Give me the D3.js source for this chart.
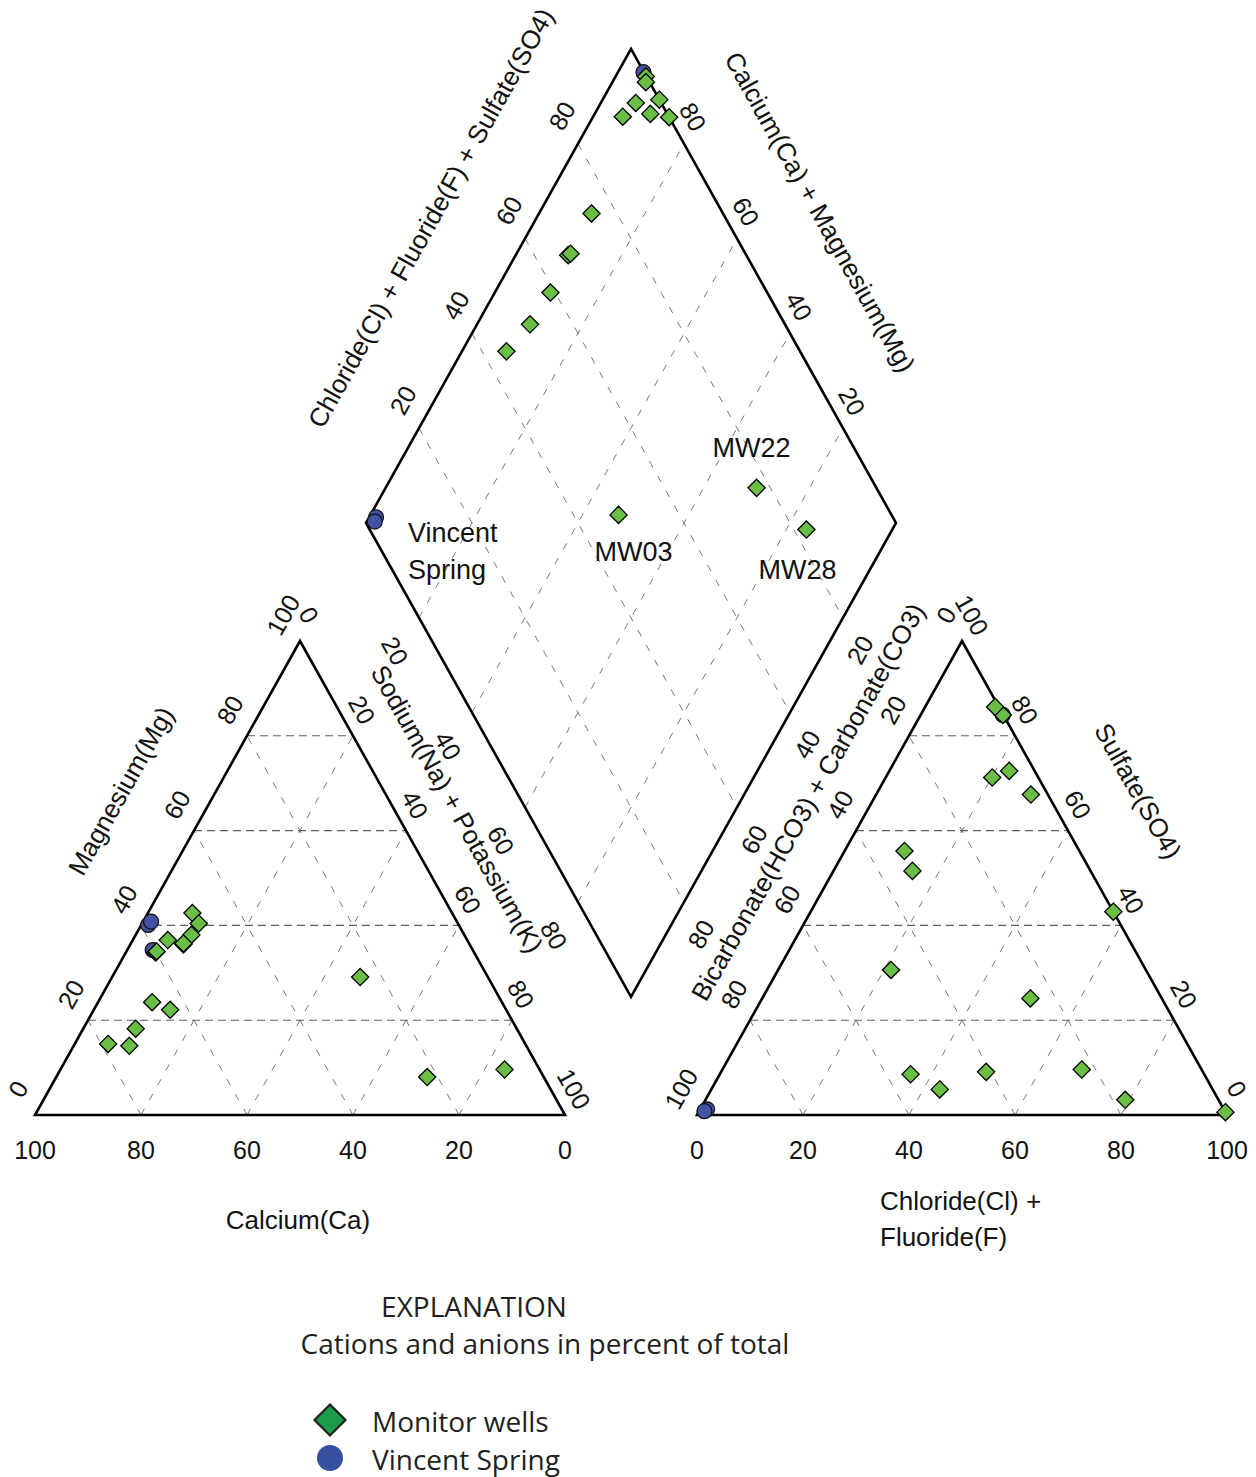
<!DOCTYPE html>
<html>
<head>
<meta charset="UTF-8">
<style>
  body { margin: 0; background: #fff; }
  svg { display: block; }
  .tick { font-family: "Liberation Sans", Arial, sans-serif; font-size: 25px; fill: #111; }
  .title { font-family: "Liberation Sans", Arial, sans-serif; font-size: 26px; fill: #111; }
  .plabel { font-family: "Liberation Sans", Arial, sans-serif; font-size: 27px; fill: #111; }
  .legend { font-family: "Open Sans", sans-serif; font-size: 28px; fill: #231f20; }
</style>
</head>
<body>
<svg id="chart" width="1256" height="1477"></svg>
<script src="https://d3js.org/d3.v7.min.js"></script>
<script>
// samples, percent of total meq (springs first so wells draw on top)
const sampleType = ["spring", "spring", "spring",
  "well", "well", "well", "well", "well", "well", "well", "well",
  "well", "well", "well", "well", "well", "well", "well", "well"];
const sampleName = [null, null, null, "MW03", "MW22", "MW28",
  null, null, null, null, null, null, null, null, null, null, null, null, null];

// cations
const calcium   = [58.6, 57.7, 60.4, 24.1, 22.0, 6.6, 49.0, 54.0, 51.5, 53.9, 66.0, 71.9, 60.1, 56.5, 74.9, 48.9, 63.4, 59.8, 78.7];
const magnesium = [40.1, 40.8, 34.8, 29.1, 8.0, 9.6, 42.6, 36.0, 38.0, 36.2, 23.8, 18.2, 34.3, 36.9, 14.6, 40.4, 22.2, 34.5, 15.0];
const sodiumPotassium = [1.3, 1.5, 4.8, 46.8, 70.0, 83.8, 8.4, 10.0, 10.5, 9.9, 10.2, 9.9, 5.6, 6.6, 10.5, 10.7, 14.4, 5.7, 6.3];

// anions
const bicarbonate = [97.5, 98.2, 0.1, 51.5, 22.6, 17.6, 55.4, 48.1, 40.9, 33.6, 33.0, 24.8, 8.7, 4.8, 3.2, 0.0, 0.0, 0.1, 0.7];
const chloride    = [1.3, 1.0, 15.5, 43.1, 67.8, 79.2, 36.0, 21.3, 50.0, 14.9, 11.3, 50.6, 20.1, 22.6, 29.2, 57.1, 99.4, 15.5, 13.2];
const sulfate     = [1.2, 0.8, 84.4, 5.4, 9.6, 3.2, 8.6, 30.6, 9.1, 51.5, 55.7, 24.6, 71.2, 72.6, 67.6, 42.9, 0.6, 84.4, 86.1];

const tickValues = [0, 20, 40, 60, 80, 100];
const gridValues = [20, 40, 60, 80];

const legendItems = ["Monitor wells", "Vincent Spring"];

let svg = d3.select("#chart");

// geometry
let baseY = 1115, cationX0 = 35, anionX0 = 697;
let side = d3.scaleLinear().domain([0, 100]).range([0, 530]);
let rise = d3.scaleLinear().domain([0, 100]).range([0, 474]);
let gap = anionX0 - (cationX0 + side(100));
let bottom = [cationX0 + side(100) + gap / 2, baseY - (gap / 2) * rise(100) / (side(100) / 2)];
let left = [bottom[0] - side(50), bottom[1] - rise(100)];
let tilt = Math.atan2(rise(100), side(50)) * 180 / Math.PI;

// positions
let cationPos = (na, mg) => [cationX0 + side(na) + side(mg) / 2, baseY - rise(mg)];
let anionPos = (cl, so4) => [anionX0 + side(cl) + side(so4) / 2, baseY - rise(so4)];
let diamondPos = (n, c) => [left[0] + side(n) / 2 + side(c) / 2, left[1] + rise(n) - rise(c)];

let line = d3.line();

// ---- grids ----
let grid = svg.append("g").attr("fill", "none");

function dashed(pts, strong) {
  grid.append("path")
    .attr("d", line(pts))
    .attr("stroke", strong ? "#5e5e5e" : "#777")
    .attr("stroke-width", strong ? 1.1 : 1)
    .attr("stroke-dasharray", strong ? "8,5" : "7,10");
}

gridValues.forEach(v => {
  // cation triangle: Mg, Na, Ca
  dashed([cationPos(0, v), cationPos(100 - v, v)], true);
  dashed([cationPos(v, 0), cationPos(v, 100 - v)], false);
  dashed([cationPos(100 - v, 0), cationPos(0, 100 - v)], false);
  // anion triangle: SO4, Cl, HCO3
  dashed([anionPos(0, v), anionPos(100 - v, v)], true);
  dashed([anionPos(v, 0), anionPos(v, 100 - v)], false);
  dashed([anionPos(100 - v, 0), anionPos(0, 100 - v)], false);
  // diamond
  dashed([diamondPos(v, 0), diamondPos(v, 100)], false);
  dashed([diamondPos(0, v), diamondPos(100, v)], false);
});

// ---- outlines ----
let frame = svg.append("g")
  .attr("fill", "none")
  .attr("stroke", "#000")
  .attr("stroke-width", 2.6)
  .attr("stroke-linejoin", "miter");

frame.append("path").attr("d", line([cationPos(0, 0), cationPos(100, 0), cationPos(0, 100)]) + "Z");
frame.append("path").attr("d", line([anionPos(0, 0), anionPos(100, 0), anionPos(0, 100)]) + "Z");
frame.append("path").attr("d", line([diamondPos(0, 0), diamondPos(0, 100), diamondPos(100, 100), diamondPos(100, 0)]) + "Z");

// ---- tick labels ----
let labels = svg.append("g");

function rotLabel(p, dx, dy, angle, text, cls) {
  labels.append("text")
    .attr("class", cls || "tick")
    .attr("text-anchor", "middle")
    .attr("dominant-baseline", "central")
    .attr("transform", `translate(${p[0] + dx},${p[1] + dy}) rotate(${angle})`)
    .text(text);
}

tickValues.forEach(v => {
  // calcium along cation base (100 at left)
  labels.append("text").attr("class", "tick")
    .attr("text-anchor", "middle").attr("dominant-baseline", "central")
    .attr("x", cationPos(100 - v, 0)[0]).attr("y", baseY + 35).text(v);
  // chloride along anion base
  labels.append("text").attr("class", "tick")
    .attr("text-anchor", "middle").attr("dominant-baseline", "central")
    .attr("x", anionPos(v, 0)[0]).attr("y", baseY + 35).text(v);
  rotLabel(cationPos(0, v), -17, -26, -tilt, v);            // magnesium
  rotLabel(cationPos(v, 100 - v), 9, -26, tilt, v);         // sodium + potassium
  rotLabel(anionPos(0, 100 - v), -16, -26, -tilt, v);       // bicarbonate
  rotLabel(anionPos(100 - v, v), 10, -26, tilt, v);         // sulfate
});

gridValues.forEach(v => {
  rotLabel(diamondPos(0, v), -16, -28, -tilt, v);           // Cl + F + SO4
  rotLabel(diamondPos(100 - v, 100), 9, -27, tilt, v);      // Ca + Mg
  rotLabel(diamondPos(v, 0), -24, 33, tilt, v);             // Na + K
  rotLabel(diamondPos(100, 100 - v), 17, 32, -tilt, v);     // HCO3 + CO3
});

// ---- axis titles ----
rotLabel([121, 791], 0, 0, -tilt, "Magnesium(Mg)", "title");
rotLabel([457, 809], 0, 0, tilt, "Sodium(Na) + Potassium(K)", "title");
rotLabel([1138, 791], 0, 0, tilt, "Sulfate(SO4)", "title");
rotLabel([808, 802], 0, 0, -tilt, "Bicarbonate(HCO3) + Carbonate(CO3)", "title");
rotLabel([431, 218], 0, 0, -tilt, "Chloride(Cl) + Fluoride(F) + Sulfate(SO4)", "title");
rotLabel([820, 212], 0, 0, tilt, "Calcium(Ca) + Magnesium(Mg)", "title");

labels.append("text").attr("class", "title").attr("text-anchor", "middle")
  .attr("dominant-baseline", "central").attr("x", 298).attr("y", 1220).text("Calcium(Ca)");
labels.append("text").attr("class", "title")
  .attr("dominant-baseline", "central").attr("x", 880).attr("y", 1201).text("Chloride(Cl) +");
labels.append("text").attr("class", "title")
  .attr("dominant-baseline", "central").attr("x", 880).attr("y", 1237).text("Fluoride(F)");

// ---- markers ----
let wellFill = "#6abd45", springFill = "#4352a5";
let diamondPath = r => `M0,${-r}L${r},0L0,${r}L${-r},0Z`;

let samples = d3.range(sampleType.length).map(i => ({
  type: sampleType[i], name: sampleName[i],
  ca: calcium[i], mg: magnesium[i], na: sodiumPotassium[i],
  hco3: bicarbonate[i], cl: chloride[i], so4: sulfate[i]
}));

let marks = svg.append("g");

function drawMarks(posFn) {
  samples.forEach(d => {
    let p = posFn(d);
    if (d.type == "well") {
      marks.append("path")
        .attr("d", diamondPath(8.6))
        .attr("transform", `translate(${p[0]},${p[1]})`)
        .attr("fill", wellFill).attr("stroke", "#000").attr("stroke-width", 1.3);
    } else {
      marks.append("circle")
        .attr("cx", p[0]).attr("cy", p[1]).attr("r", 7.5)
        .attr("fill", springFill).attr("stroke", "#111").attr("stroke-width", 1.2);
    }
  });
}

drawMarks(d => cationPos(d.na, d.mg));
drawMarks(d => anionPos(d.cl, d.so4));
drawMarks(d => diamondPos(d.na, d.cl + d.so4));

// ---- sample labels in the diamond ----
let nameOffset = { "MW03": [15, 37], "MW22": [-5, -40], "MW28": [-9, 40] };
samples.filter(d => d.name).forEach(d => {
  let p = diamondPos(d.na, d.cl + d.so4);
  let o = nameOffset[d.name];
  labels.append("text").attr("class", "plabel")
    .attr("text-anchor", "middle").attr("dominant-baseline", "central")
    .attr("x", p[0] + o[0]).attr("y", p[1] + o[1]).text(d.name);
});
labels.append("text").attr("class", "plabel")
  .attr("dominant-baseline", "central").attr("x", 408).attr("y", 533).text("Vincent");
labels.append("text").attr("class", "plabel")
  .attr("dominant-baseline", "central").attr("x", 408).attr("y", 570).text("Spring");

// ---- explanation ----
let legend = svg.append("g");
legend.append("text").attr("class", "legend").attr("text-anchor", "middle")
  .attr("dominant-baseline", "central").attr("x", 474).attr("y", 1306).text("EXPLANATION");
legend.append("text").attr("class", "legend").attr("text-anchor", "middle")
  .attr("dominant-baseline", "central").attr("x", 545).attr("y", 1343).text("Cations and anions in percent of total");

legend.append("path")
  .attr("d", diamondPath(15.5))
  .attr("transform", "translate(330,1420)")
  .attr("fill", "#1b9a48").attr("stroke", "#231f20").attr("stroke-width", 2.2);
legend.append("circle").attr("cx", 330).attr("cy", 1458).attr("r", 13)
  .attr("fill", "#3650a0");

legendItems.forEach((t, i) => {
  legend.append("text").attr("class", "legend")
    .attr("dominant-baseline", "central")
    .attr("x", 372).attr("y", 1421 + i * 38).text(t);
});
</script>
</body>
</html>
